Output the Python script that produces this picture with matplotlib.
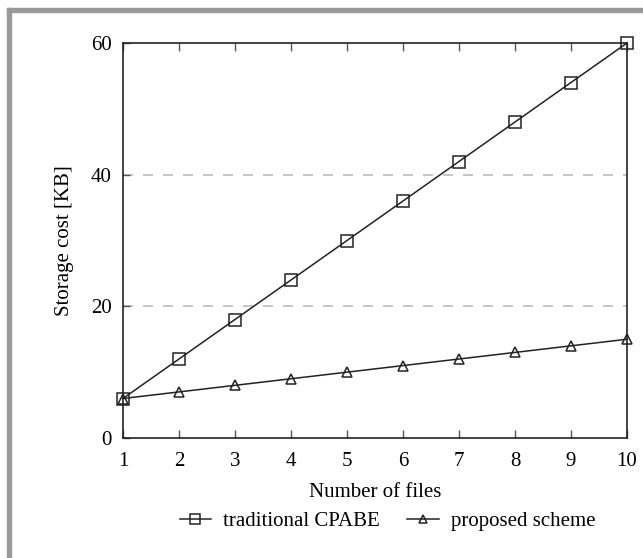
import matplotlib.pyplot as plt
from matplotlib.patches import Rectangle

plt.rcParams['font.family'] = ['Liberation Serif', 'DejaVu Serif']

files = [1, 2, 3, 4, 5, 6, 7, 8, 9, 10]
traditional = [6, 12, 18, 24, 30, 36, 42, 48, 54, 60]
proposed = [6, 7, 8, 9, 10, 11, 12, 13, 14, 15]
y_ticks = [0, 20, 40, 60]

fig = plt.figure(figsize=(6.43, 5.58), dpi=100)
ax = fig.add_axes([123 / 643, 1 - 438 / 558, 504 / 643, 395 / 558])

# grey frame on the left and top edges of the picture
fig.patches.append(Rectangle((7 / 643, 0), 4 / 643, 1 - 8 / 558, transform=fig.transFigure,
                             color='#999999', zorder=0))
fig.patches.append(Rectangle((7 / 643, 1 - 12 / 558), 1, 4 / 558, transform=fig.transFigure,
                             color='#999999', zorder=0))

for y in y_ticks[1:-1]:
    ax.axhline(y, color='#bbbbbb', linestyle=(0, (6, 6)), linewidth=1.2, zorder=0)

ax.plot(files, traditional, color='#222222', linewidth=1.1, marker='s', markersize=9,
        markerfacecolor='none', markeredgecolor='#222222', markeredgewidth=1.1,
        label='traditional CPABE', clip_on=False)
ax.plot(files, proposed, color='#222222', linewidth=1.1, marker='^', markersize=7.5,
        markerfacecolor='none', markeredgecolor='#222222', markeredgewidth=1.1,
        label='proposed scheme', clip_on=False)

ax.set_xlim(1, 10)
ax.set_ylim(0, 60)
ax.set_xticks(files)
ax.set_yticks(y_ticks)
ax.tick_params(axis='x', direction='in', top=True, length=6, width=1, color='#555555',
               labelsize=15, pad=10)
ax.tick_params(axis='y', direction='in', length=5, width=1, color='#555555',
               labelsize=15, pad=8)
for s in ax.spines.values():
    s.set_linewidth(1.2)
    s.set_color('#222222')

ax.set_xlabel('Number of files', fontsize=15, labelpad=9)
ax.set_ylabel('Storage cost [KB]', fontsize=15, labelpad=12)

ax.legend(loc='upper center', bbox_to_anchor=(0.525, -0.138), ncol=2, frameon=False,
          fontsize=15, handlelength=1.5, columnspacing=1.3, handletextpad=0.6,
          markerscale=0.8)

fig.savefig('out.png', dpi=100)
